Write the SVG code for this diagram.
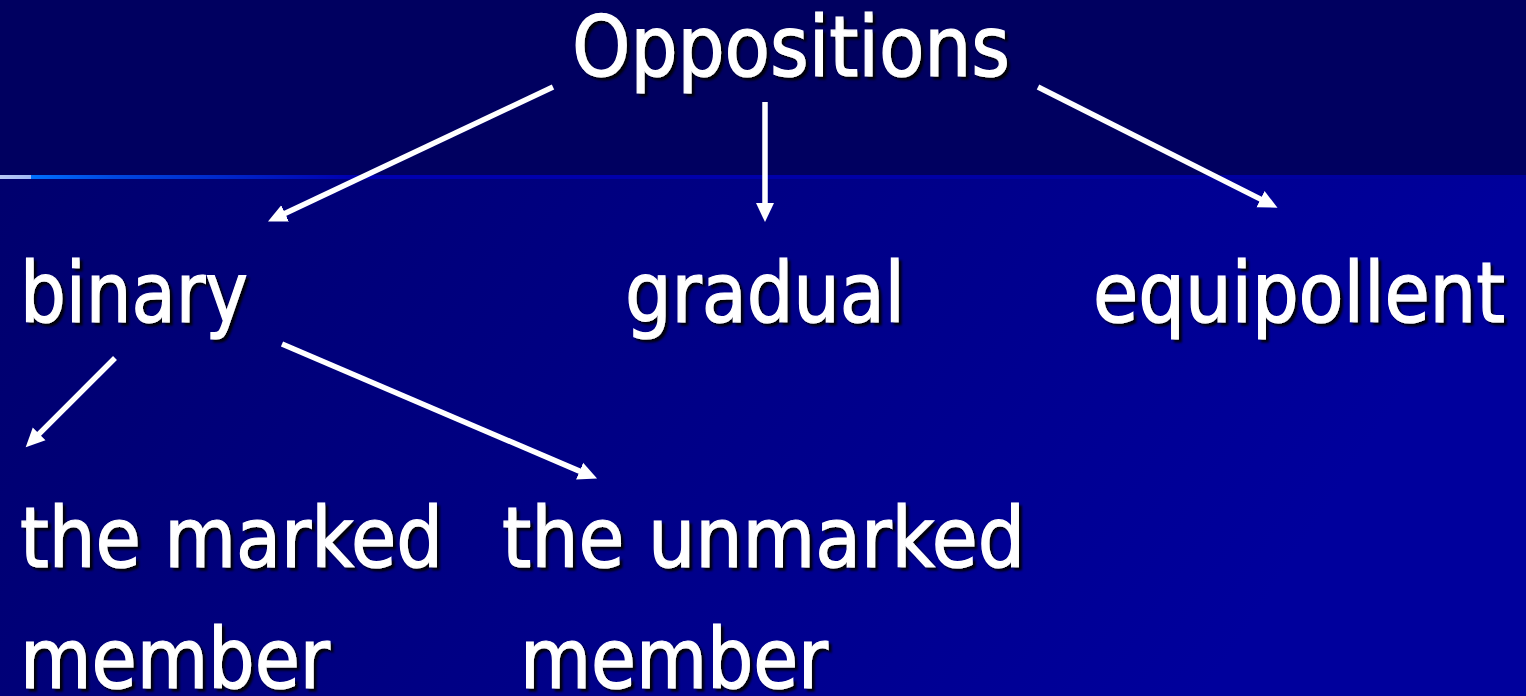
<svg xmlns="http://www.w3.org/2000/svg" width="1526" height="696" viewBox="0 0 1526 696">
  <defs>
    <linearGradient id="lower" x1="0" y1="0" x2="1" y2="0.3">
      <stop offset="0" stop-color="#00006A"/>
      <stop offset="1" stop-color="#00009C"/>
    </linearGradient>
    <linearGradient id="rule" x1="0" y1="0" x2="1" y2="0">
      <stop offset="0" stop-color="#B8C8F4"/>
      <stop offset="0.02" stop-color="#A0B8F4"/>
      <stop offset="0.02" stop-color="#0070FF"/>
      <stop offset="0.075" stop-color="#0048E0"/>
      <stop offset="0.23" stop-color="#0000B0"/>
      <stop offset="1" stop-color="#00009A"/>
    </linearGradient>
    <filter id="shadow" x="-10%" y="-10%" width="120%" height="130%">
      <feDropShadow dx="3" dy="3" stdDeviation="0.8" flood-color="#000000" flood-opacity="0.9"/>
    </filter>
    <marker id="arrow" markerUnits="userSpaceOnUse" markerWidth="20" markerHeight="20" refX="5" refY="10" orient="auto">
      <path d="M0,1 L19,10 L0,19 z" fill="#FFFFFF"/>
    </marker>
    <style>
      .lbl { font-family: "DejaVu Sans Condensed", "DejaVu Sans", Tahoma, Verdana, sans-serif; font-size: 84px; fill: #FFFFFF; stroke: #FFFFFF; stroke-width: 1.2px; filter: url(#shadow); }
      .conn { stroke: #FFFFFF; stroke-width: 5.5; fill: none; marker-end: url(#arrow); }
    </style>
  </defs>

  <rect x="0" y="0" width="1526" height="696" fill="url(#lower)"/>
  <rect x="0" y="0" width="1526" height="175" fill="#000060"/>
  <rect x="0" y="175" width="1526" height="4" fill="url(#rule)"/>

  <g id="connectors">
    <line class="conn" x1="553" y1="87" x2="280.6" y2="215.6"/>
    <line class="conn" x1="765" y1="102" x2="765" y2="208"/>
    <line class="conn" x1="1038" y1="87" x2="1265" y2="201.4"/>
    <line class="conn" x1="115" y1="358" x2="35.6" y2="437.4"/>
    <line class="conn" x1="282" y1="344" x2="584.2" y2="473.1"/>
  </g>

  <g id="node-oppositions">
    <text class="lbl" x="572" y="76" textLength="438" lengthAdjust="spacingAndGlyphs">Oppositions</text>
  </g>
  <g id="node-binary">
    <text class="lbl" x="20" y="322" textLength="228" lengthAdjust="spacingAndGlyphs">binary</text>
  </g>
  <g id="node-gradual">
    <text class="lbl" x="625" y="322" textLength="280" lengthAdjust="spacingAndGlyphs">gradual</text>
  </g>
  <g id="node-equipollent">
    <text class="lbl" x="1093" y="322" textLength="412" lengthAdjust="spacingAndGlyphs">equipollent</text>
  </g>
  <g id="node-marked">
    <text class="lbl" x="20" y="567" textLength="423" lengthAdjust="spacingAndGlyphs">the marked</text>
    <text class="lbl" x="20" y="688" textLength="310" lengthAdjust="spacingAndGlyphs">member</text>
  </g>
  <g id="node-unmarked">
    <text class="lbl" x="502" y="567" textLength="523" lengthAdjust="spacingAndGlyphs">the unmarked</text>
    <text class="lbl" x="520" y="688" textLength="308" lengthAdjust="spacingAndGlyphs">member</text>
  </g>
</svg>
